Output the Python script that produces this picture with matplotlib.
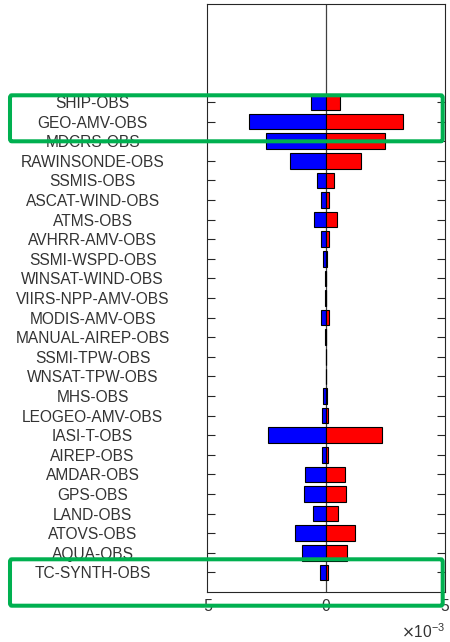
import matplotlib
matplotlib.use('Agg')
import matplotlib.pyplot as plt
from matplotlib.patches import FancyBboxPatch
import numpy as np

# categories, top to bottom
categories = ['SHIP-OBS', 'GEO-AMV-OBS', 'MDCRS-OBS', 'RAWINSONDE-OBS', 'SSMIS-OBS',
              'ASCAT-WIND-OBS', 'ATMS-OBS', 'AVHRR-AMV-OBS', 'SSMI-WSPD-OBS',
              'WINSAT-WIND-OBS', 'VIIRS-NPP-AMV-OBS', 'MODIS-AMV-OBS', 'MANUAL-AIREP-OBS',
              'SSMI-TPW-OBS', 'WNSAT-TPW-OBS', 'MHS-OBS', 'LEOGEO-AMV-OBS', 'IASI-T-OBS',
              'AIREP-OBS', 'AMDAR-OBS', 'GPS-OBS', 'LAND-OBS', 'ATOVS-OBS', 'AQUA-OBS',
              'TC-SYNTH-OBS']

# negative contributions (blue), in units of 1e-3
neg_vals = [-0.62, -3.22, -2.51, -1.51, -0.35,
            -0.20, -0.50, -0.20, -0.11,
            -0.03, -0.03, -0.20, -0.02,
            -0.01, -0.01, -0.10, -0.15, -2.41,
            -0.15, -0.87, -0.92, -0.54, -1.31, -1.00,
            -0.25]

# positive contributions (red), in units of 1e-3
pos_vals = [0.60, 3.23, 2.48, 1.46, 0.35,
            0.15, 0.47, 0.15, 0.04,
            0.02, 0.03, 0.15, 0.01,
            0.01, 0.01, 0.05, 0.11, 2.37,
            0.11, 0.81, 0.86, 0.50, 1.21, 0.91,
            0.11]

x_ticks = [-5, 0, 5]
x_ticklabels = ['-5', '0', '5']

plt.rcParams['font.family'] = ['Liberation Sans', 'DejaVu Sans']
plt.rcParams['axes.unicode_minus'] = False

W, H = 450, 642
fig = plt.figure(figsize=(W / 100, H / 100), dpi=100)
ax = fig.add_axes([206.5 / W, 1 - 592 / H, 238.5 / W, 588 / H])

n = len(categories)
ypos = np.arange(n, 0, -1)

ax.axvline(0, color='#404040', lw=0.9, zorder=1)
ax.barh(ypos, neg_vals, height=0.8, color='#0000ff', edgecolor='black', lw=0.8, zorder=2)
ax.barh(ypos, pos_vals, height=0.8, color='#ff0000', edgecolor='black', lw=0.8, zorder=2)

ax.set_xlim(-5, 5)
ax.set_ylim(0, 30)
ax.set_xticks(x_ticks)
ax.set_xticklabels(x_ticklabels)

ax.set_yticks(ypos)
ax.set_yticklabels(categories)
ax.tick_params(axis='y', direction='in', length=6, right=True, pad=82,
               labelsize=11.2, labelcolor='#333333', color='#262626')
ax.tick_params(axis='x', direction='in', length=0, labelsize=11.2,
               labelcolor='#333333', pad=5)
for lbl in ax.get_yticklabels():
    lbl.set_horizontalalignment('center')

# exponent label, as in the reference
ax.text(1.0, -0.068, r'$\times\mathregular{10^{-3}}$', transform=ax.transAxes,
        ha='right', va='center', fontsize=11.2, color='#333333')

for sp in ax.spines.values():
    sp.set_color('#262626')
    sp.set_linewidth(0.8)

# green highlight boxes
green = '#00b050'
for top, bottom in [(95.3, 141.3), (559.3, 605.7)]:
    box = FancyBboxPatch((10 / W, 1 - bottom / H), 432.7 / W, (bottom - top) / H,
                         boxstyle='round,pad=0,rounding_size=0.004',
                         transform=fig.transFigure, fill=False,
                         edgecolor=green, lw=2.9, zorder=10)
    fig.patches.append(box)

fig.savefig('out.png', dpi=100)
